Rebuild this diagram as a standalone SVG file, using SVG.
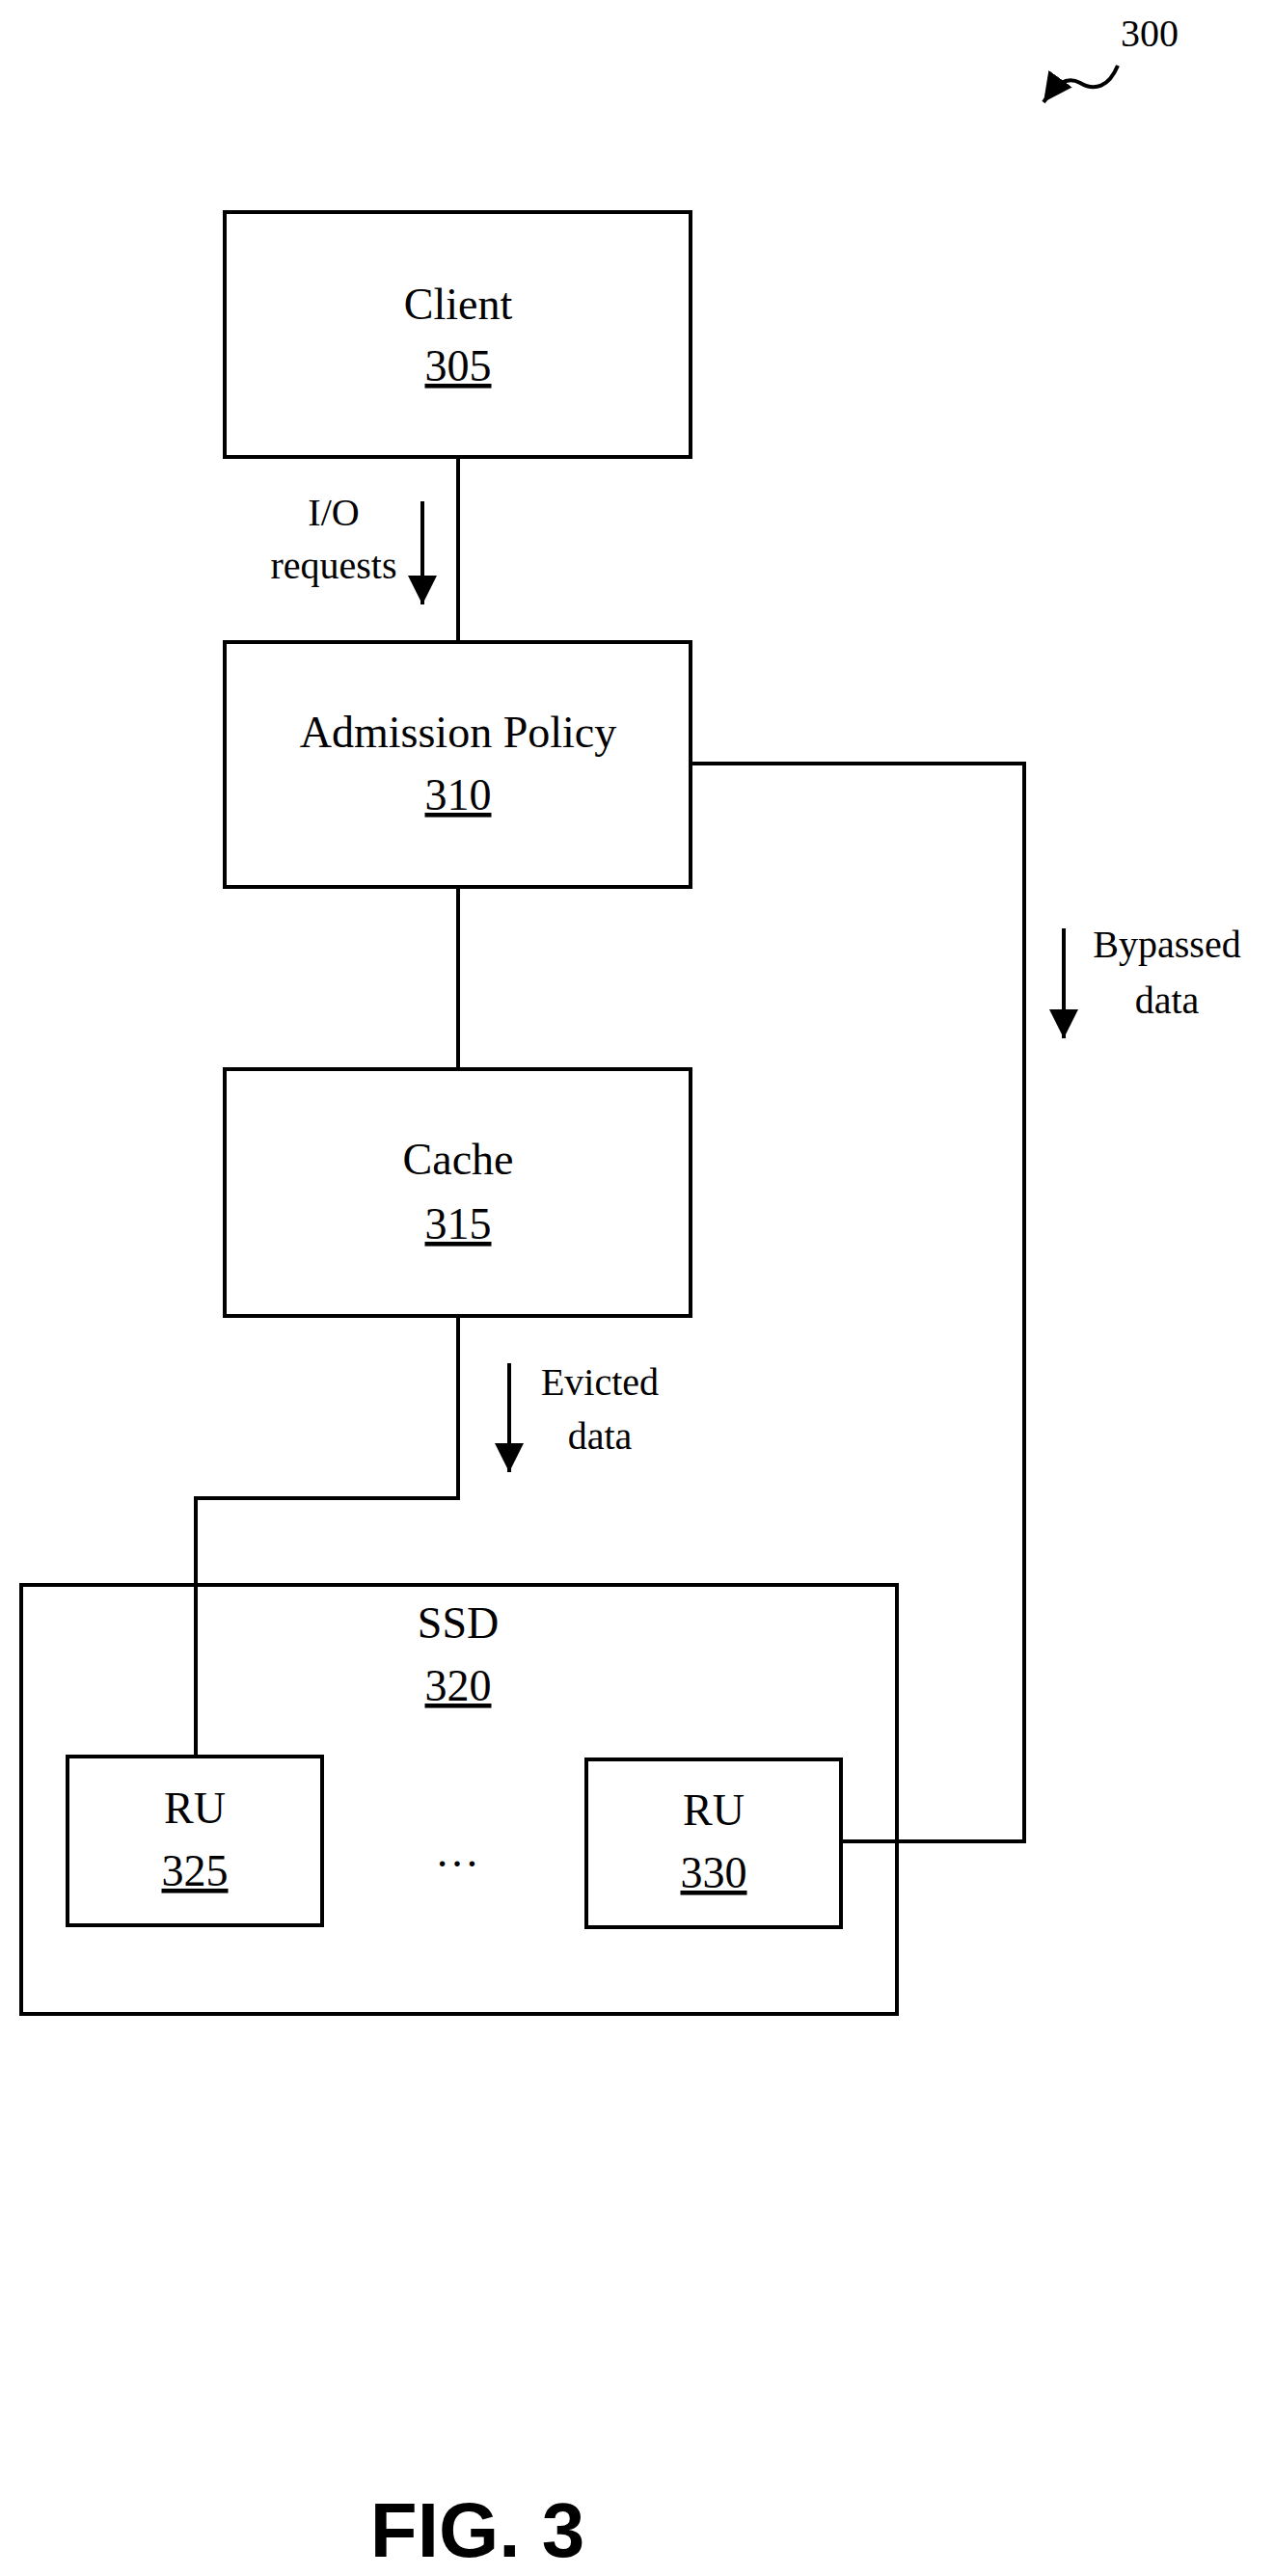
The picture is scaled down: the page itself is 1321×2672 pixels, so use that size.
<svg xmlns="http://www.w3.org/2000/svg" width="1321" height="2672" viewBox="0 0 1321 2672">
<defs>
<style>
.b{fill:none;stroke:#000;stroke-width:4}
.c{fill:none;stroke:#000;stroke-width:4}
.t{font-family:"Liberation Serif",serif;font-size:46px;text-anchor:middle;fill:#000}
.s{font-family:"Liberation Serif",serif;font-size:40px;text-anchor:middle;fill:#000}
.u{text-decoration:underline}
</style>
<marker id="ah" markerWidth="8" markerHeight="8" refX="6" refY="4" orient="auto" markerUnits="userSpaceOnUse" viewBox="0 0 8 8"><path d="M0,0 L8,4 L0,8 Z"/></marker>
<marker id="a" viewBox="0 0 10 10" refX="10" refY="5" markerWidth="30" markerHeight="30" markerUnits="userSpaceOnUse" orient="auto"><path d="M0,0 L10,5 L0,10 Z" fill="#000"/></marker>
</defs>
<rect width="1321" height="2672" fill="#fff"/>
<g id="connectors">
<path class="c" d="M475,474 V666"/>
<path class="c" d="M475,920 V1109"/>
<path class="c" d="M716,792 H1062 V1910 H872"/>
<path class="c" d="M475,1365 V1554 H203 V1822"/>
<path class="c" d="M438,520 V627" marker-end="url(#a)"/>
<path class="c" d="M1103,963 V1077" marker-end="url(#a)"/>
<path class="c" d="M528,1414 V1527" marker-end="url(#a)"/>
<path class="c" d="M1159,68 C1150,90 1135,95 1120,86 C1105,78 1095,88 1082,106" marker-end="url(#a)" stroke-width="2"/>
</g>
<g id="label300"><text class="s" x="1192" y="48">300</text></g>
<g id="client"><rect class="b" x="233" y="220" width="483" height="254"/><text class="t" x="475" y="331">Client</text><text class="t u" x="475" y="395">305</text></g>
<g id="admission"><rect class="b" x="233" y="666" width="483" height="254"/><text class="t" x="475" y="775">Admission Policy</text><text class="t u" x="475" y="840">310</text></g>
<g id="cache"><rect class="b" x="233" y="1109" width="483" height="256"/><text class="t" x="475" y="1218">Cache</text><text class="t u" x="475" y="1285">315</text></g>
<g id="ssd"><rect class="b" x="22" y="1644" width="908" height="445"/><text class="t" x="475" y="1699">SSD</text><text class="t u" x="475" y="1764">320</text></g>
<g id="ru325"><rect class="b" x="70" y="1822" width="264" height="175"/><text class="t" x="202" y="1891">RU</text><text class="t u" x="202" y="1956">325</text></g>
<g id="ru330"><rect class="b" x="608" y="1825" width="264" height="174"/><text class="t" x="740" y="1893">RU</text><text class="t u" x="740" y="1958">330</text></g>
<g id="dots"><text class="t" x="474" y="1936">…</text></g>
<g id="labels">
<text class="s" x="346" y="545">I/O</text><text class="s" x="346" y="600">requests</text>
<text class="s" x="1210" y="993">Bypassed</text><text class="s" x="1210" y="1051">data</text>
<text class="s" x="622" y="1447">Evicted</text><text class="s" x="622" y="1503">data</text>
</g>
<text x="495" y="2652" font-family="Liberation Sans,sans-serif" font-weight="bold" font-size="80" text-anchor="middle">FIG. 3</text>
</svg>
